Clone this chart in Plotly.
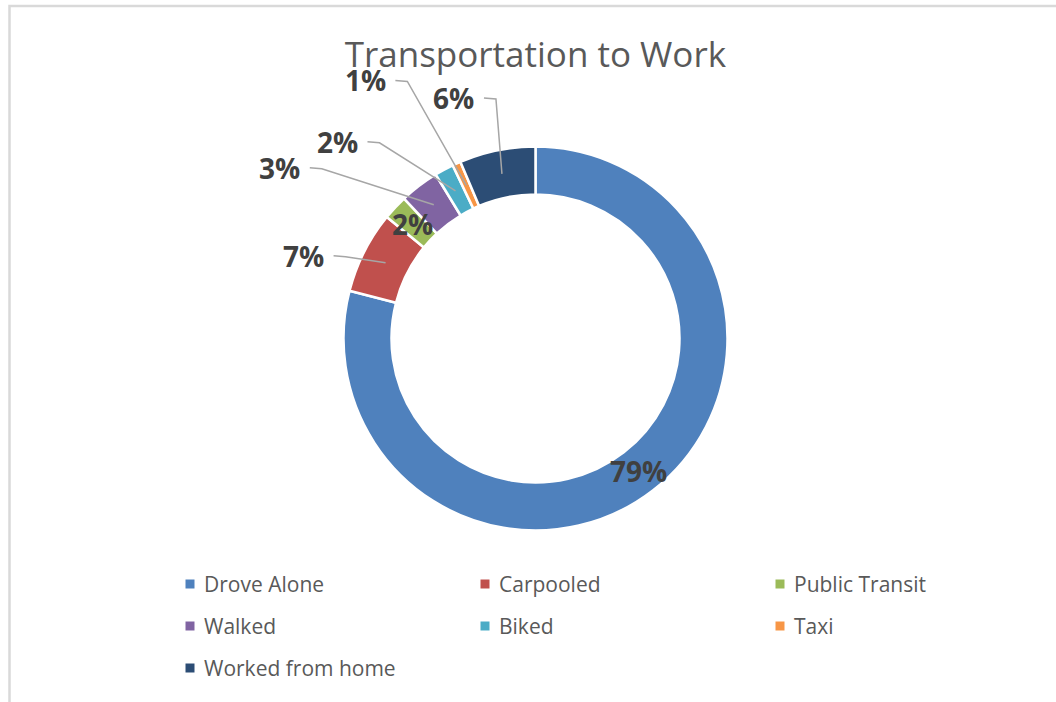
import math
import plotly.graph_objects as go

# ---------------- data ----------------
categories = ["Drove Alone", "Carpooled", "Public Transit", "Walked", "Biked", "Taxi", "Worked from home"]
values = [79.0, 6.9, 2.1, 3.3, 1.6, 0.7, 6.4]
pct_labels = ["79%", "7%", "2%", "3%", "2%", "1%", "6%"]
colors = ["#4F81BD", "#C0504D", "#9BBB59", "#8064A2", "#4BACC6", "#F79646", "#2C4D75"]
title_text = "Transportation to Work"

# ---------------- layout constants (pixels) ----------------
W, H = 1056, 702
CX, CY, R = 535.5, 338.5, 192
HOLE = 0.75
# label offsets (px) from slice mid-ring anchor; None = label sits on the ring
label_offsets = [None, (-82, -7), None, (-154, -37), (-118, -49), (-101, -105), (-48, -76)]
LABEL_HALF_W = 20
# legend grid
LEG_X0, LEG_DX = 190, 295
LEG_Y0, LEG_DY = 584, 42
LEG_COLS = 3
LEG_MARK = 9
FONT = "Open Sans, Noto Sans, sans-serif"

def px(x):
    return x / W

def py(y):
    return 1 - y / H

fig = go.Figure()
fig.add_trace(go.Pie(
    labels=categories,
    values=values,
    sort=False,
    direction="clockwise",
    rotation=0,
    hole=HOLE,
    marker=dict(colors=colors, line=dict(color="white", width=2.5)),
    textinfo="none",
    hoverinfo="label+percent",
    showlegend=False,
    domain=dict(x=[px(CX - R), px(CX + R)], y=[py(CY + R), py(CY - R)]),
))

total = sum(values)
rm = R * (1 + HOLE) / 2
annotations = []
shapes = []
cum = 0.0
for val, lab, off in zip(values, pct_labels, label_offsets):
    mid = (cum + val / 2) / total
    cum += val
    th = 2 * math.pi * mid
    ax = CX + rm * math.sin(th)
    ay = CY - rm * math.cos(th)
    if off is None:
        lx, ly = ax, ay
    else:
        lx, ly = ax + off[0], ay + off[1]
        x1 = lx + LABEL_HALF_W + 10
        x2 = lx + LABEL_HALF_W + 22
        path = "M {:.5f} {:.5f} L {:.5f} {:.5f} L {:.5f} {:.5f}".format(
            px(x1), py(ly), px(x2), py(ly + 1), px(ax), py(ay))
        shapes.append(dict(type="path", xref="paper", yref="paper", path=path,
                           line=dict(color="#A6A6A6", width=1.5)))
    annotations.append(dict(
        x=px(lx), y=py(ly), xref="paper", yref="paper",
        text="<b>" + lab + "</b>", showarrow=False,
        xanchor="center", yanchor="middle",
        font=dict(family=FONT, size=28, color="#404040"),
    ))

# legend (grid of square markers + labels, Excel style)
for i, (cat, col) in enumerate(zip(categories, colors)):
    r, c = divmod(i, LEG_COLS)
    mx = LEG_X0 + c * LEG_DX
    my = LEG_Y0 + r * LEG_DY
    h = LEG_MARK / 2
    shapes.append(dict(type="rect", xref="paper", yref="paper",
                       x0=px(mx - h), x1=px(mx + h), y0=py(my + h), y1=py(my - h),
                       line=dict(width=0), fillcolor=col))
    annotations.append(dict(
        x=px(mx + 12), y=py(my), xref="paper", yref="paper",
        text=cat, showarrow=False, xanchor="left", yanchor="middle",
        font=dict(family=FONT, size=21, color="#595959"),
    ))

# chart frame
shapes.append(dict(type="rect", xref="paper", yref="paper",
                   x0=px(9.5), x1=1.02, y0=-0.02, y1=py(6),
                   line=dict(color="#D9D9D9", width=2.5), fillcolor="rgba(0,0,0,0)"))

fig.update_layout(
    width=W, height=H,
    margin=dict(l=0, r=0, t=0, b=0, autoexpand=False),
    paper_bgcolor="white",
    plot_bgcolor="white",
    title=dict(text=title_text, x=0.507, xanchor="center", y=py(55), yanchor="middle",
               yref="container",
               font=dict(family=FONT, size=35, color="#595959")),
    showlegend=False,
    annotations=annotations,
    shapes=shapes,
)

fig.write_html("out.html", config={"displayModeBar": False},
               post_script="document.body.style.margin='0';")
